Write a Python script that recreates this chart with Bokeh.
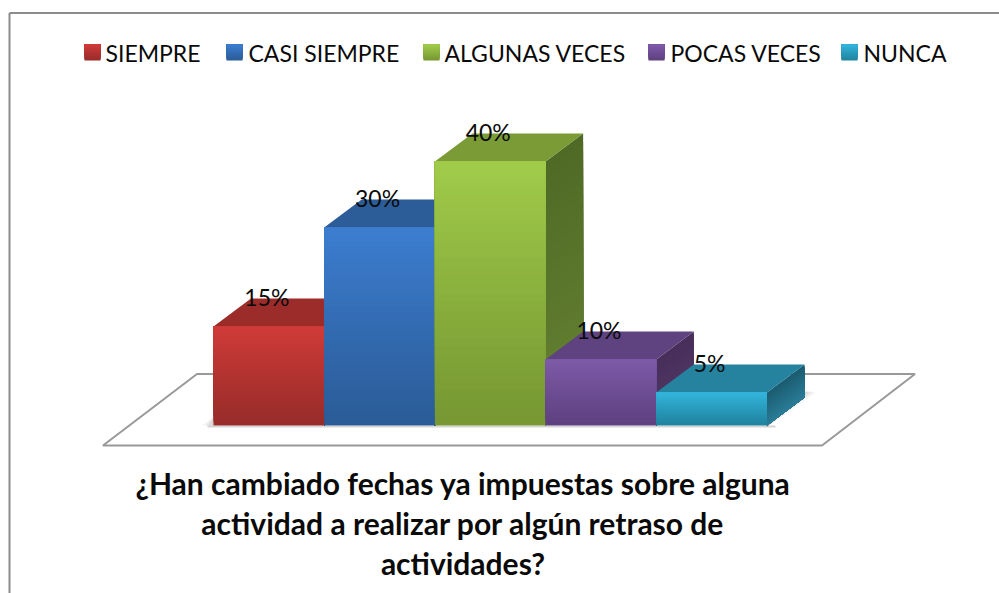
from bokeh.plotting import figure
from bokeh.models import Range1d
from bokeh.embed import file_html
from bokeh.resources import INLINE
from bokeh.core.properties import value

categories = ["SIEMPRE", "CASI SIEMPRE", "ALGUNAS VECES", "POCAS VECES", "NUNCA"]
percentages = [15, 30, 40, 10, 5]
title_lines = ["¿Han cambiado fechas ya impuestas sobre alguna",
               "actividad a realizar por algún retraso de",
               "actividades?"]

FRONT_TOP = ["#CF3B38", "#3C7DD0", "#A0CB4A", "#7E5AA8", "#33B4DC"]
FRONT_BOT = ["#982C2A", "#2B5C98", "#779832", "#5E4180", "#20849F"]
ROOF = ["#9B2C2A", "#2C5D99", "#7A9B36", "#5F4280", "#25839F"]
SIDE_TOP = ["#7F2523", "#254E80", "#668232", "#523868", "#2A7D98"]
SIDE_BOT = ["#6A1F1D", "#1F4169", "#4F6A26", "#472F5A", "#1B5C70"]

# pixel calibration of the page
BASE_PX, PX_PER_PCT = 425.0, 6.6
LEFT_PX, SLOT_PX = 213.0, 110.7
DEPTH_X_PX, DEPTH_Y_PX = 37.5, 28.0
FIG_W, FIG_H = 999, 593


def sx(px):
    return (px - LEFT_PX) / SLOT_PX


def sy(py):
    return (BASE_PX - py) / PX_PER_PCT


def lerp(c1, c2, t):
    a = [int(c1[i:i + 2], 16) for i in (1, 3, 5)]
    b = [int(c2[i:i + 2], 16) for i in (1, 3, 5)]
    return "#%02x%02x%02x" % tuple(round(u + (w - u) * t) for u, w in zip(a, b))


DX, DY = DEPTH_X_PX / SLOT_PX, DEPTH_Y_PX / PX_PER_PCT

p = figure(width=FIG_W, height=FIG_H, output_backend="svg", toolbar_location=None,
           x_range=Range1d(sx(0), sx(FIG_W)), y_range=Range1d(sy(FIG_H), sy(0)),
           min_border=0, outline_line_color=None, background_fill_color="white")
p.axis.visible = False
p.grid.visible = False

# chart frame
p.line([sx(9), sx(9)], [sy(600), sy(12.5)], line_color="#8C8C8C", line_width=2)
p.line([sx(9), sx(1000)], [sy(12.5), sy(12.5)], line_color="#8C8C8C", line_width=2)

# floor
p.patch([sx(102.5), sx(821.5), sx(914.5), sx(196.5)],
        [sy(445), sy(445), sy(373.5), sy(373.5)],
        fill_color="white", line_color="#999999", line_width=2)

# soft shadows on the floor
for k, a in enumerate([0.05, 0.07, 0.09, 0.12]):
    g = 12 - 3.5 * k
    p.patch([sx(766), sx(766 + DEPTH_X_PX + g), sx(766 + DEPTH_X_PX + g * 0.6), sx(766)],
            [sy(427), sy(392), sy(392 - 1), sy(392)],
            fill_color="#555555", fill_alpha=a, line_color=None)
    p.patch([sx(213 - g), sx(213), sx(213), sx(213 - g * 0.3)],
            [sy(425), sy(425), sy(416), sy(419)],
            fill_color="#555555", fill_alpha=a, line_color=None)
p.quad(left=[sx(207)], right=[sx(775)], bottom=[sy(427)], top=[sy(425)],
       fill_color="#888888", fill_alpha=0.35, line_color=None)

# bars, painted left to right
N = 30
for i, v in enumerate(percentages):
    x0, x1 = float(i), float(i + 1)
    # side face
    sxs, sys, scol = [], [], []
    for k in range(N):
        t = k / N
        sxs.append([x1, x1 + DX, x1 + DX, x1])
        sys.append([0, DY, DY + v * (1 - t), v * (1 - t)])
        scol.append(lerp(SIDE_TOP[i], SIDE_BOT[i], 1 - t))
    p.patches(sxs, sys, fill_color=scol, line_color=None)
    # roof
    p.patch([x0, x1, x1 + DX, x0 + DX], [v, v, v + DY, v + DY],
            fill_color=ROOF[i], line_color=None)
    # front face: dark to light, each strip starts lower than the next
    bot = [v * k / N for k in range(N)]
    cols = [lerp(FRONT_BOT[i], FRONT_TOP[i], (k / (N - 1)) ** 1.1) for k in range(N)]
    p.quad(left=[x0] * N, right=[x1] * N, bottom=bot, top=[v] * N,
           fill_color=cols, line_color=None)

# data labels
p.text(x=[i + 0.5 - 2 / SLOT_PX for i in range(len(percentages))],
       y=[v + 29.5 / PX_PER_PCT for v in percentages],
       text=[f"{v}%" for v in percentages],
       text_align="center", text_baseline="middle",
       text_font=value("Lato"), text_font_size="23px", text_color="#0a0a0a")

# legend
swatch_px = [84, 226, 423, 648, 841]
label_px = [105, 248, 444, 670, 863]
for i, name in enumerate(categories):
    M = 16
    w = 16
    p.quad(left=[sx(swatch_px[i])] * M, right=[sx(swatch_px[i] + w)] * M,
           bottom=[sy(60 - 16 * k / M) for k in range(M)], top=[sy(44)] * M,
           fill_color=[lerp(FRONT_BOT[i], FRONT_TOP[i], k / (M - 1)) for k in range(M)],
           line_color=None)
p.text(x=[sx(v) for v in label_px], y=[sy(52)] * 5, text=categories,
       text_align="left", text_baseline="middle",
       text_font=value("Lato"), text_font_size="23px", text_color="#0a0a0a")

# title
p.text(x=[sx(462.5)] * 3, y=[sy(482), sy(522), sy(562)], text=title_lines,
       text_align="center", text_baseline="middle",
       text_font=value("Lato"), text_font_style="bold", text_font_size="30px",
       text_color="#0a0a0a")

open("out.html", "w").write(file_html(p, INLINE))
